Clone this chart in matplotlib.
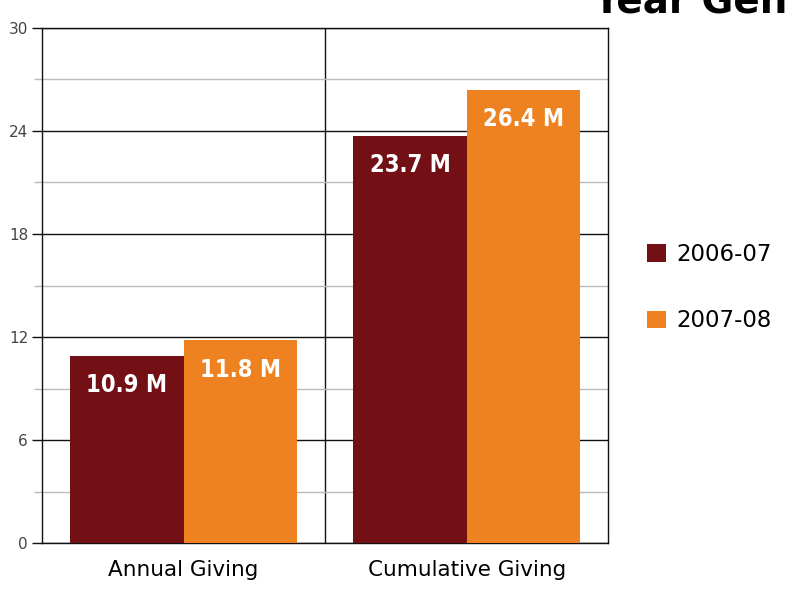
import numpy as np
import matplotlib
matplotlib.use("Agg")
import matplotlib.pyplot as plt
from matplotlib.patches import Patch

plt.rcParams['font.family'] = ['DejaVu Sans']

categories = ["Annual Giving", "Cumulative Giving"]
series_names = ["2006-07", "2007-08"]
giving_0607 = [10.9, 23.7]
giving_0708 = [11.8, 26.4]
bar_labels_0607 = ["10.9 M", "23.7 M"]
bar_labels_0708 = ["11.8 M", "26.4 M"]
yticks = [0, 6, 12, 18, 24, 30]

MAROON = '#721015'
ORANGE = '#ee8221'

fig = plt.figure(figsize=(7.92, 5.93), dpi=100)
ax = fig.add_axes([0.053, 0.084, 0.715, 0.869])

x = np.arange(len(categories))
w = 0.4
b1 = ax.bar(x - w / 2, giving_0607, w, color=MAROON, zorder=3)
b2 = ax.bar(x + w / 2, giving_0708, w, color=ORANGE, zorder=3)

# labels inside bars, near the top
for bars, labels in [(b1, bar_labels_0607), (b2, bar_labels_0708)]:
    for r, lab in zip(bars, labels):
        ax.annotate(lab, (r.get_x() + r.get_width() / 2, r.get_height()),
                    xytext=(0, -21), textcoords='offset points',
                    ha='center', va='center', color='white',
                    fontsize=17, fontweight='bold', fontstretch='condensed',
                    family=['Liberation Sans Narrow', 'DejaVu Sans'], zorder=4)

ax.set_xlim(-0.5, 1.5)
ax.set_ylim(0, 30)
ax.set_yticks(yticks)
ax.set_yticks([3, 9, 15, 21, 27], minor=True)
ax.grid(True, which='major', axis='y', color='#111111', linewidth=1.0, zorder=1)
ax.grid(True, which='minor', axis='y', color='#bbbbbb', linewidth=1.0, zorder=1)
ax.axvline(0.5, color='#111111', linewidth=1.0, zorder=1)
for s in ax.spines.values():
    s.set_color('#111111')
    s.set_linewidth(1.0)

ax.set_xticks(x)
ax.set_xticklabels(categories, fontsize=15.5)
ax.tick_params(axis='x', length=0, pad=12)
ax.tick_params(axis='y', which='major', length=7, width=1, color='#111111',
               labelsize=11, labelcolor='#444444', pad=3)
ax.tick_params(axis='y', which='minor', length=6, width=1, color='#bbbbbb')

handles = [Patch(facecolor=MAROON), Patch(facecolor=ORANGE)]
fig.legend(handles, series_names, loc='center left', bbox_to_anchor=(0.80, 0.515),
           frameon=False, fontsize=16.5, handlelength=0.8, handleheight=0.8,
           labelspacing=1.9, handletextpad=0.45, borderaxespad=0.2)

# cut-off heading fragment at the top right
fig.text(0.995, 0.978, "Year Gen", ha='right', va='baseline',
         fontsize=28, fontweight='bold', color='black')

fig.savefig("out.png", dpi=100)
